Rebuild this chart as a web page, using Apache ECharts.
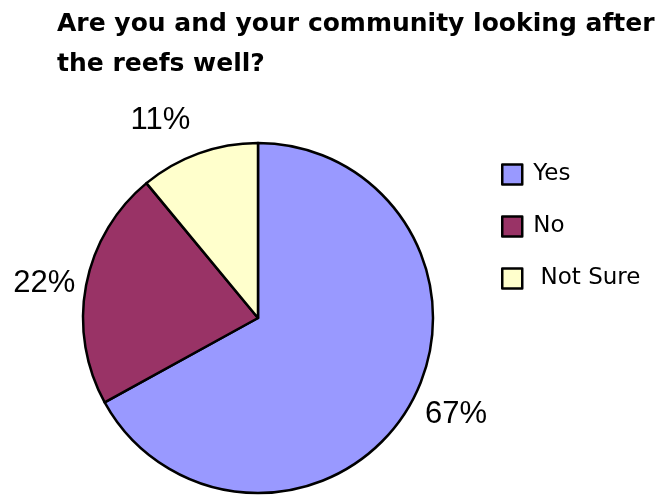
<!DOCTYPE html>
<html>
<head>
<meta charset="utf-8">
<script src="https://cdn.jsdelivr.net/npm/echarts@6/dist/echarts.min.js"></script>
<style>
  html, body { margin: 0; padding: 0; background: #ffffff; }
  #chart { width: 668px; height: 495px; }
</style>
</head>
<body>
<div id="chart"></div>
<script>
// Survey answers (percent of respondents)
const categories = ['Yes', 'No', ' Not Sure'];
const shares = [67, 22, 11];
const sliceColors = ['#9999FF', '#993366', '#FFFFCC'];
// radial distance of each percentage label beyond the rim
const labelReach = [19, 11, 25];
// extra vertical nudge for each percentage label
const labelLift = [-2, 0, -9];

const chart = echarts.init(document.getElementById('chart'), null, { renderer: 'canvas' });

const pieData = categories.map((name, i) => ({
  name: name,
  value: shares[i],
  itemStyle: { color: sliceColors[i] },
  labelLine: { show: false, length: labelReach[i], length2: 0 }
}));

chart.setOption({
  animation: false,
  backgroundColor: '#ffffff',
  title: {
    text: 'Are you and your community looking after\nthe reefs well?',
    left: 57,
    top: 4,
    padding: 0,
    textStyle: {
      fontFamily: 'DejaVu Sans',
      fontWeight: 'bold',
      fontSize: 25,
      lineHeight: 40,
      color: '#000000'
    }
  },
  legend: {
    orient: 'vertical',
    left: 501,
    top: 163,
    padding: 0,
    itemWidth: 20,
    itemHeight: 20,
    itemGap: 29,
    icon: 'rect',
    selectedMode: false,
    itemStyle: { borderColor: '#000000', borderWidth: 2.5 },
    textStyle: {
      fontFamily: 'DejaVu Sans',
      fontSize: 23,
      lineHeight: 20,
      color: '#000000',
      padding: [0, 0, 0, 6]
    },
    data: categories
  },
  series: [{
    type: 'pie',
    center: [258, 318],
    radius: 175,
    startAngle: 90,
    clockwise: true,
    avoidLabelOverlap: false,
    itemStyle: { borderColor: '#000000', borderWidth: 2.5 },
    emphasis: { disabled: true },
    label: {
      show: true,
      position: 'outside',
      formatter: p => p.value + '%',
      fontFamily: 'Liberation Sans',
      fontSize: 31,
      color: '#000000',
      distanceToLabelLine: 0
    },
    labelLayout: p => ({ dy: labelLift[p.dataIndex] }),
    data: pieData
  }]
});
</script>
</body>
</html>
